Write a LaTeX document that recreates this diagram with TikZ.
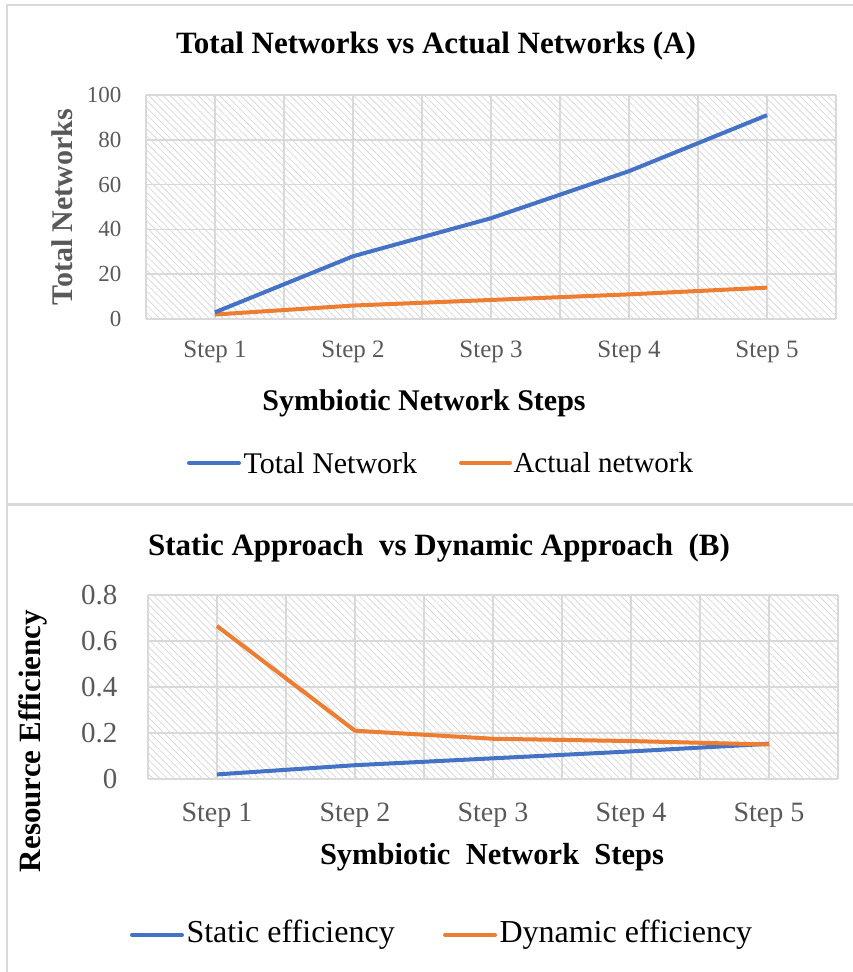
\documentclass[tikz,border=0pt]{standalone}
\usepackage{fontspec}
\setmainfont{Liberation Serif}
\usetikzlibrary{patterns.meta}
\definecolor{xlblue}{HTML}{4472C4}
\definecolor{xlorange}{HTML}{ED7D31}
\definecolor{xlgrid}{HTML}{D9D9D9}
\definecolor{xlgray}{HTML}{595959}
\tikzset{
  gridline/.style={draw=xlgrid, line width=1.5pt},
  hatchbox/.style={pattern={Lines[angle=-45,distance=5pt,line width=0.8pt]}, pattern color=xlgrid},
  series/.style={line width=4pt, line join=round},
  keyline/.style={line width=4pt, line cap=round},
  charttitle/.style={font=\bfseries\fontsize{31}{31}\selectfont},
  axistitle/.style={font=\bfseries\fontsize{#1}{#1}\selectfont},
  ticklabel/.style={text=xlgray, font=\fontsize{#1}{#1}\selectfont},
  keytext/.style={anchor=west, font=\fontsize{#1}{#1}\selectfont}
}
\begin{document}
\begin{tikzpicture}[x=1pt,y=-1pt]
    \useasboundingbox (0,0) rectangle (853,972);

    % Outer frame and divider
    \draw[xlgrid, line width=2pt] (853,5) -- (7,5) -- (7,972);
    \draw[xlgrid, line width=3pt] (7,504) -- (853,504);

    % ---------- Chart (A) ----------
    \node[charttitle] (titleA) at (436,46) {Total Networks vs Actual Networks (A)};

    % Plot area with hatch
    \fill[hatchbox] (146,95) rectangle (836,319);
    \foreach \i in {0,...,10}
      \draw[gridline] (146+69*\i,95) -- (146+69*\i,319);
    \foreach \j in {0,...,5}
      \draw[gridline] (146,95+44.8*\j) -- (836,95+44.8*\j);

    % Value labels
    \foreach \v in {0,20,40,60,80,100}
      \node[ticklabel=23, anchor=east] (yA\v) at (125,{319-2.24*\v}) {\v};

    % Step labels
    \foreach \k in {1,...,5}
      \node[ticklabel=25] (xA\k) at ({146+69*(2*\k-1)},352) {Step \k};

    % Axis titles
    \node[axistitle=30, text=xlgray, rotate=90] (ytitleA) at (62,207) {Total Networks};
    \node[axistitle=30] (xtitleA) at (424,403) {Symbiotic Network Steps};

    % Series
    \foreach \v [count=\k] in {3,28,45,66,91}
      \coordinate (tot\k) at ({146+69*(2*\k-1)},{319-2.24*\v});
    \foreach \v [count=\k] in {2,6,8.5,11,14}
      \coordinate (act\k) at ({146+69*(2*\k-1)},{319-2.24*\v});
    \draw[series, xlorange] (act1) -- (act2) -- (act3) -- (act4) -- (act5);
    \draw[series, xlblue] (tot1) -- (tot2) -- (tot3) -- (tot4) -- (tot5);

    % Legend
    \coordinate (kA1) at (189,463);
    \coordinate (kA2) at (239,463);
    \coordinate (kA3) at (461,463);
    \coordinate (kA4) at (510,463);
    \draw[keyline, xlblue] (kA1) -- (kA2);
    \node[keytext=30] (keytot) at (240,463) {Total Network};
    \draw[keyline, xlorange] (kA3) -- (kA4);
    \node[keytext=29] (keyact) at (510,463) {Actual network};

    % ---------- Chart (B) ----------
    \node[charttitle] (titleB) at (439,548) {Static Approach\ \ vs Dynamic Approach\ \ (B)};

    % Plot area with hatch
    \fill[hatchbox] (148,595) rectangle (838,779);
    \foreach \i in {0,...,10}
      \draw[gridline] (148+69*\i,595) -- (148+69*\i,779);
    \foreach \j in {0,...,4}
      \draw[gridline] (148,595+46*\j) -- (838,595+46*\j);

    % Value labels
    \foreach \v/\t in {0/0,0.2/0.2,0.4/0.4,0.6/0.6,0.8/0.8}
      \node[ticklabel=29, anchor=east] at (121,{779-230*\v}) {\t};

    % Step labels
    \foreach \k in {1,...,5}
      \node[ticklabel=28] (xB\k) at ({148+69*(2*\k-1)},815) {Step \k};

    % Axis titles
    \node[axistitle=31, rotate=90] (ytitleB) at (33,741) {Resource Efficiency};
    \node[axistitle=30.5] (xtitleB) at (492,857) {Symbiotic\ \ Network\ \ Steps};

    % Series
    \foreach \v [count=\k] in {0.02,0.06,0.09,0.12,0.153}
      \coordinate (sta\k) at ({148+69*(2*\k-1)},{779-230*\v});
    \foreach \v [count=\k] in {0.665,0.21,0.175,0.165,0.15}
      \coordinate (dyn\k) at ({148+69*(2*\k-1)},{779-230*\v});
    \draw[series, xlblue] (sta1) -- (sta2) -- (sta3) -- (sta4) -- (sta5);
    \draw[series, xlorange] (dyn1) -- (dyn2) -- (dyn3) -- (dyn4) -- (dyn5);

    % Legend
    \coordinate (kB1) at (132,935);
    \coordinate (kB2) at (182,935);
    \coordinate (kB3) at (445,935);
    \coordinate (kB4) at (495,935);
    \draw[keyline, xlblue] (kB1) -- (kB2);
    \node[keytext=32] (keysta) at (183,935) {Static efficiency};
    \draw[keyline, xlorange] (kB3) -- (kB4);
    \node[keytext=32] (keydyn) at (496,935) {Dynamic efficiency};
\end{tikzpicture}
\end{document}
